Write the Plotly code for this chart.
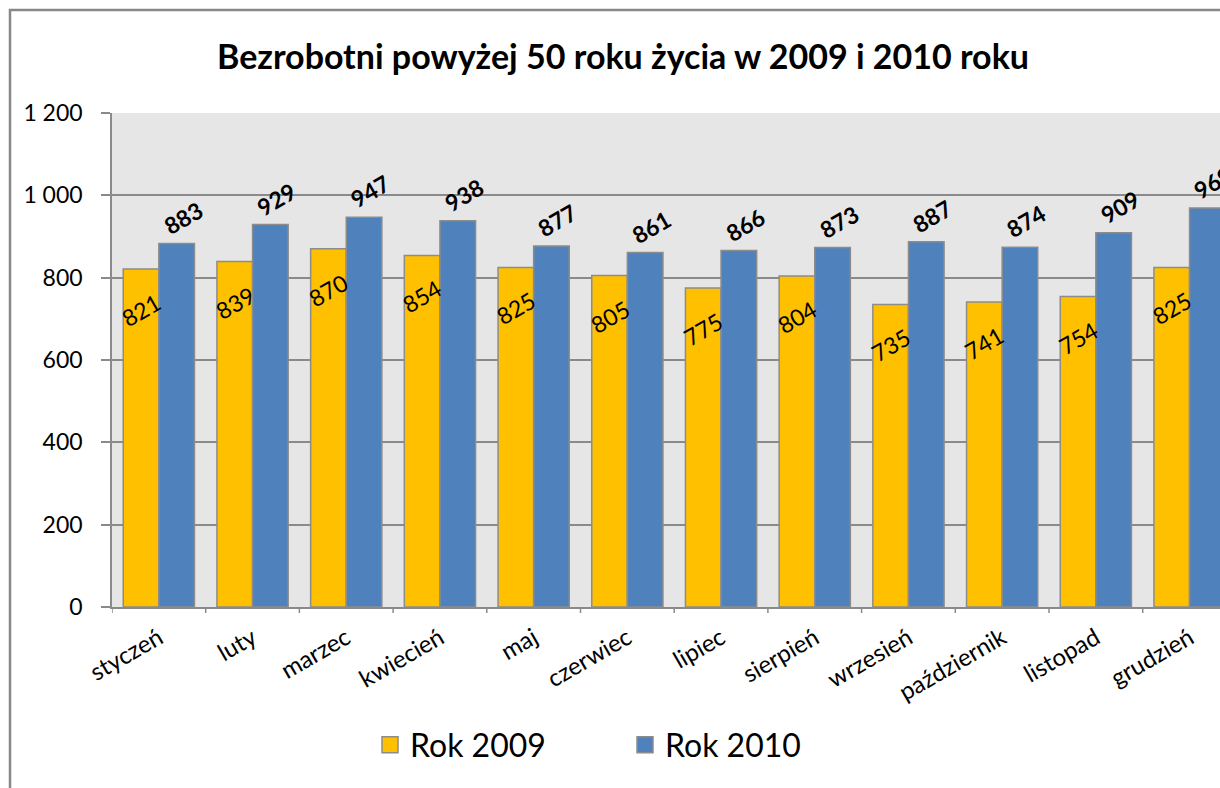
import plotly.graph_objects as go

months = ["styczeń", "luty", "marzec", "kwiecień", "maj", "czerwiec",
          "lipiec", "sierpień", "wrzesień", "październik", "listopad", "grudzień"]
rok_2009 = [821, 839, 870, 854, 825, 805, 775, 804, 735, 741, 754, 825]
rok_2010 = [883, 929, 947, 938, 877, 861, 866, 873, 887, 874, 909, 969]
y_tick_vals = [0, 200, 400, 600, 800, 1000, 1200]
y_tick_text = ["0", "200", "400", "600", "800", "1 000", "1 200"]
title_text = "Bezrobotni powyżej 50 roku życia w 2009 i 2010 roku"

FONT = "Lato"
YELLOW = "#FFC000"
BLUE = "#4F81BD"
EDGE = "#8C8C8C"
GRID = "#8A8A8A"

W, H = 1220, 788
ML, MT = 112, 113
MR = 0
MB = H - 607
PW = W - ML - MR
PH = H - MT - MB
cat_px = 93.7
x_max = -0.5 + PW / cat_px

fig = go.Figure()
fig.add_trace(go.Bar(x=list(range(len(months))), y=rok_2009, name="Rok 2009",
                     marker=dict(color=YELLOW, line=dict(color=EDGE, width=1.5)),
                     showlegend=False))
fig.add_trace(go.Bar(x=list(range(len(months))), y=rok_2010, name="Rok 2010",
                     marker=dict(color=BLUE, line=dict(color=EDGE, width=1.5)),
                     showlegend=False))
# legend entries
fig.add_trace(go.Scatter(x=[None], y=[None], mode="markers", name="Rok 2009",
                         marker=dict(symbol="square", size=22, color=YELLOW,
                                     line=dict(color=EDGE, width=1.5))))
fig.add_trace(go.Scatter(x=[None], y=[None], mode="markers", name="Rok 2010",
                         marker=dict(symbol="square", size=22, color=BLUE,
                                     line=dict(color=EDGE, width=1.5))))

annotations = []
half = 0.19
for i, (a, b) in enumerate(zip(rok_2009, rok_2010)):
    annotations.append(dict(x=i - half, y=a, xref="x", yref="y", text=f"{a}",
                            showarrow=False, textangle=-30, yshift=-41, xshift=0,
                            xanchor="center", yanchor="middle",
                            font=dict(family=FONT, size=23, color="black")))
    annotations.append(dict(x=i + half, y=b, xref="x", yref="y", text=f"<b>{b}</b>",
                            showarrow=False, textangle=-30, yshift=26, xshift=6,
                            xanchor="center", yanchor="middle",
                            font=dict(family=FONT, size=23, color="black")))

# screen pixel -> paper coordinate helpers
fx = lambda px: (px - ML) / PW
fy = lambda py: (H - MB - py) / PH

shapes = [dict(type="path", xref="paper", yref="paper",
               path=f"M {fx(10)} {fy(830)} L {fx(10)} {fy(10)} L {fx(1300)} {fy(10)}",
               line=dict(color="#888888", width=2.5), layer="above")]

fig.update_layout(
    width=W, height=H,
    margin=dict(l=ML, r=MR, t=MT, b=MB),
    paper_bgcolor="white",
    plot_bgcolor="#E6E6E6",
    barmode="group", bargap=0.24, bargroupgap=0,
    font=dict(family=FONT, color="black"),
    title=dict(text=f"<b>{title_text}</b>", x=623 / W, xanchor="center",
               y=1 - 57 / H, yanchor="middle", yref="container",
               font=dict(family=FONT, size=34, color="black")),
    xaxis=dict(range=[-0.5, x_max], tickmode="array",
               tickvals=list(range(len(months))), ticktext=months,
               tickangle=-30, tickfont=dict(family=FONT, size=24),
               ticklabelstandoff=6,
               showgrid=False, showline=True, linecolor=GRID, linewidth=1.5,
               ticks="", zeroline=False),
    yaxis=dict(range=[0, 1200], tickmode="array", tickvals=y_tick_vals,
               ticktext=y_tick_text, tickfont=dict(family=FONT, size=23),
               ticklabelstandoff=14,
               showgrid=True, gridcolor=GRID, gridwidth=1.5,
               showline=True, linecolor=GRID, linewidth=1.5,
               ticks="outside", ticklen=9, tickcolor=GRID, tickwidth=1.5,
               zeroline=False),
    legend=dict(orientation="h", x=fx(370), xanchor="left", y=fy(745), yanchor="middle",
                font=dict(family=FONT, size=32), entrywidth=210, itemwidth=30,
                bgcolor="rgba(0,0,0,0)"),
    annotations=annotations,
    shapes=shapes,
)

# boundary tick marks on the category axis
for k in range(len(months) + 1):
    fig.add_shape(type="line", xref="x", yref="paper", x0=k - 0.5, x1=k - 0.5,
                  y0=0, y1=-6 / PH, line=dict(color=GRID, width=1.5))

fig.write_html("out.html",
               config={"displayModeBar": False},
               post_script="document.body.style.margin='0px';"
                           "document.body.style.overflow='hidden';")
